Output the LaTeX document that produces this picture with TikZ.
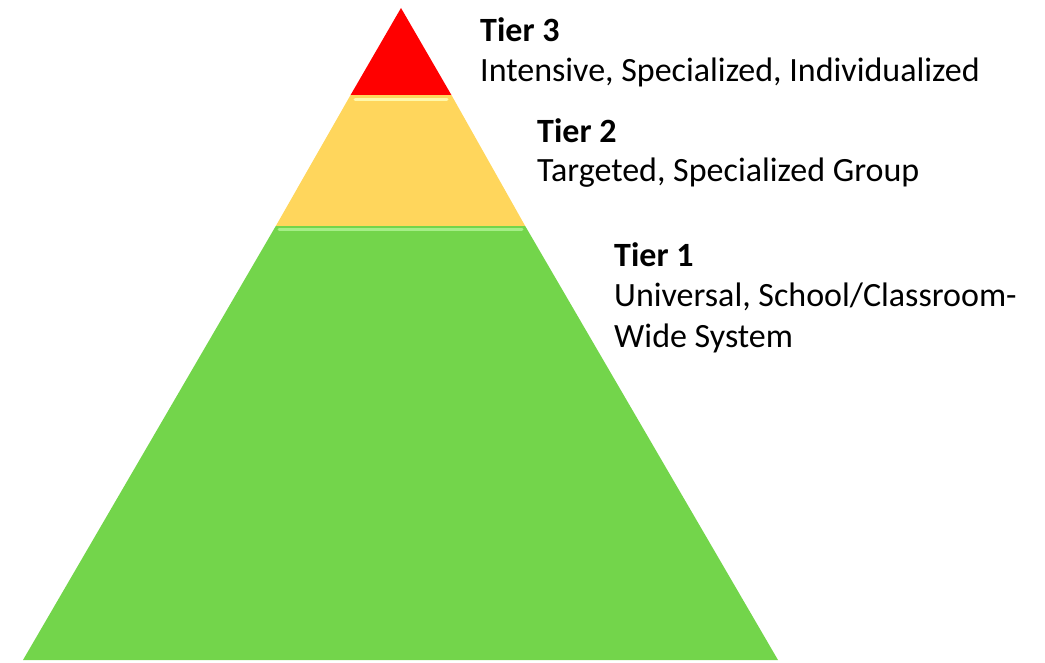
\documentclass[tikz,border=0pt]{standalone}
\usepackage{fontspec}
\setmainfont{Carlito}
\definecolor{tierred}{RGB}{255,0,0}
\definecolor{tieryellow}{RGB}{255,214,92}
\definecolor{tiergreen}{RGB}{115,213,75}
\definecolor{hlyellow}{RGB}{255,248,170}
\definecolor{hlgreen}{RGB}{165,238,135}
\tikzset{
  tierhead/.style={anchor=base west, inner sep=0pt, font=\fontsize{34}{40}\selectfont\bfseries},
  tiertext/.style={anchor=base west, inner sep=0pt, align=left, font=\fontsize{34}{41}\selectfont},
  hline/.style={line width=3pt, line cap=round}
}
\begin{document}
\begin{tikzpicture}[x=1pt,y=-1pt]
\useasboundingbox (0,0) rectangle (1045,663);
% pyramid bands
\fill[tiergreen] (275.8,226) -- (525.2,226) -- (778,660) -- (23,660) -- cycle;
\fill[tieryellow] (350.6,95) -- (451.4,95) -- (525.2,226) -- (275.8,226) -- cycle;
\fill[tierred] (401,8) -- (451.4,95) -- (350.6,95) -- cycle;
\draw[hline, hlyellow] (355,99.5) -- (447,99.5);
\draw[hline, hlgreen] (279,229.5) -- (522,229.5);
% labels
\node[tierhead] (t3) at (480,42) {Tier 3};
\node[tiertext] (d3) at (480,82) {Intensive, Specialized, Individualized};
\node[tierhead] (t2) at (537,143) {Tier 2};
\node[tiertext] (d2) at (537,182) {Targeted, Specialized Group};
\node[tierhead] (t1) at (614,267) {Tier 1};
\node[tiertext] (d1) at (614,348) {Universal, School/Classroom-\\Wide System};
\end{tikzpicture}
\end{document}
